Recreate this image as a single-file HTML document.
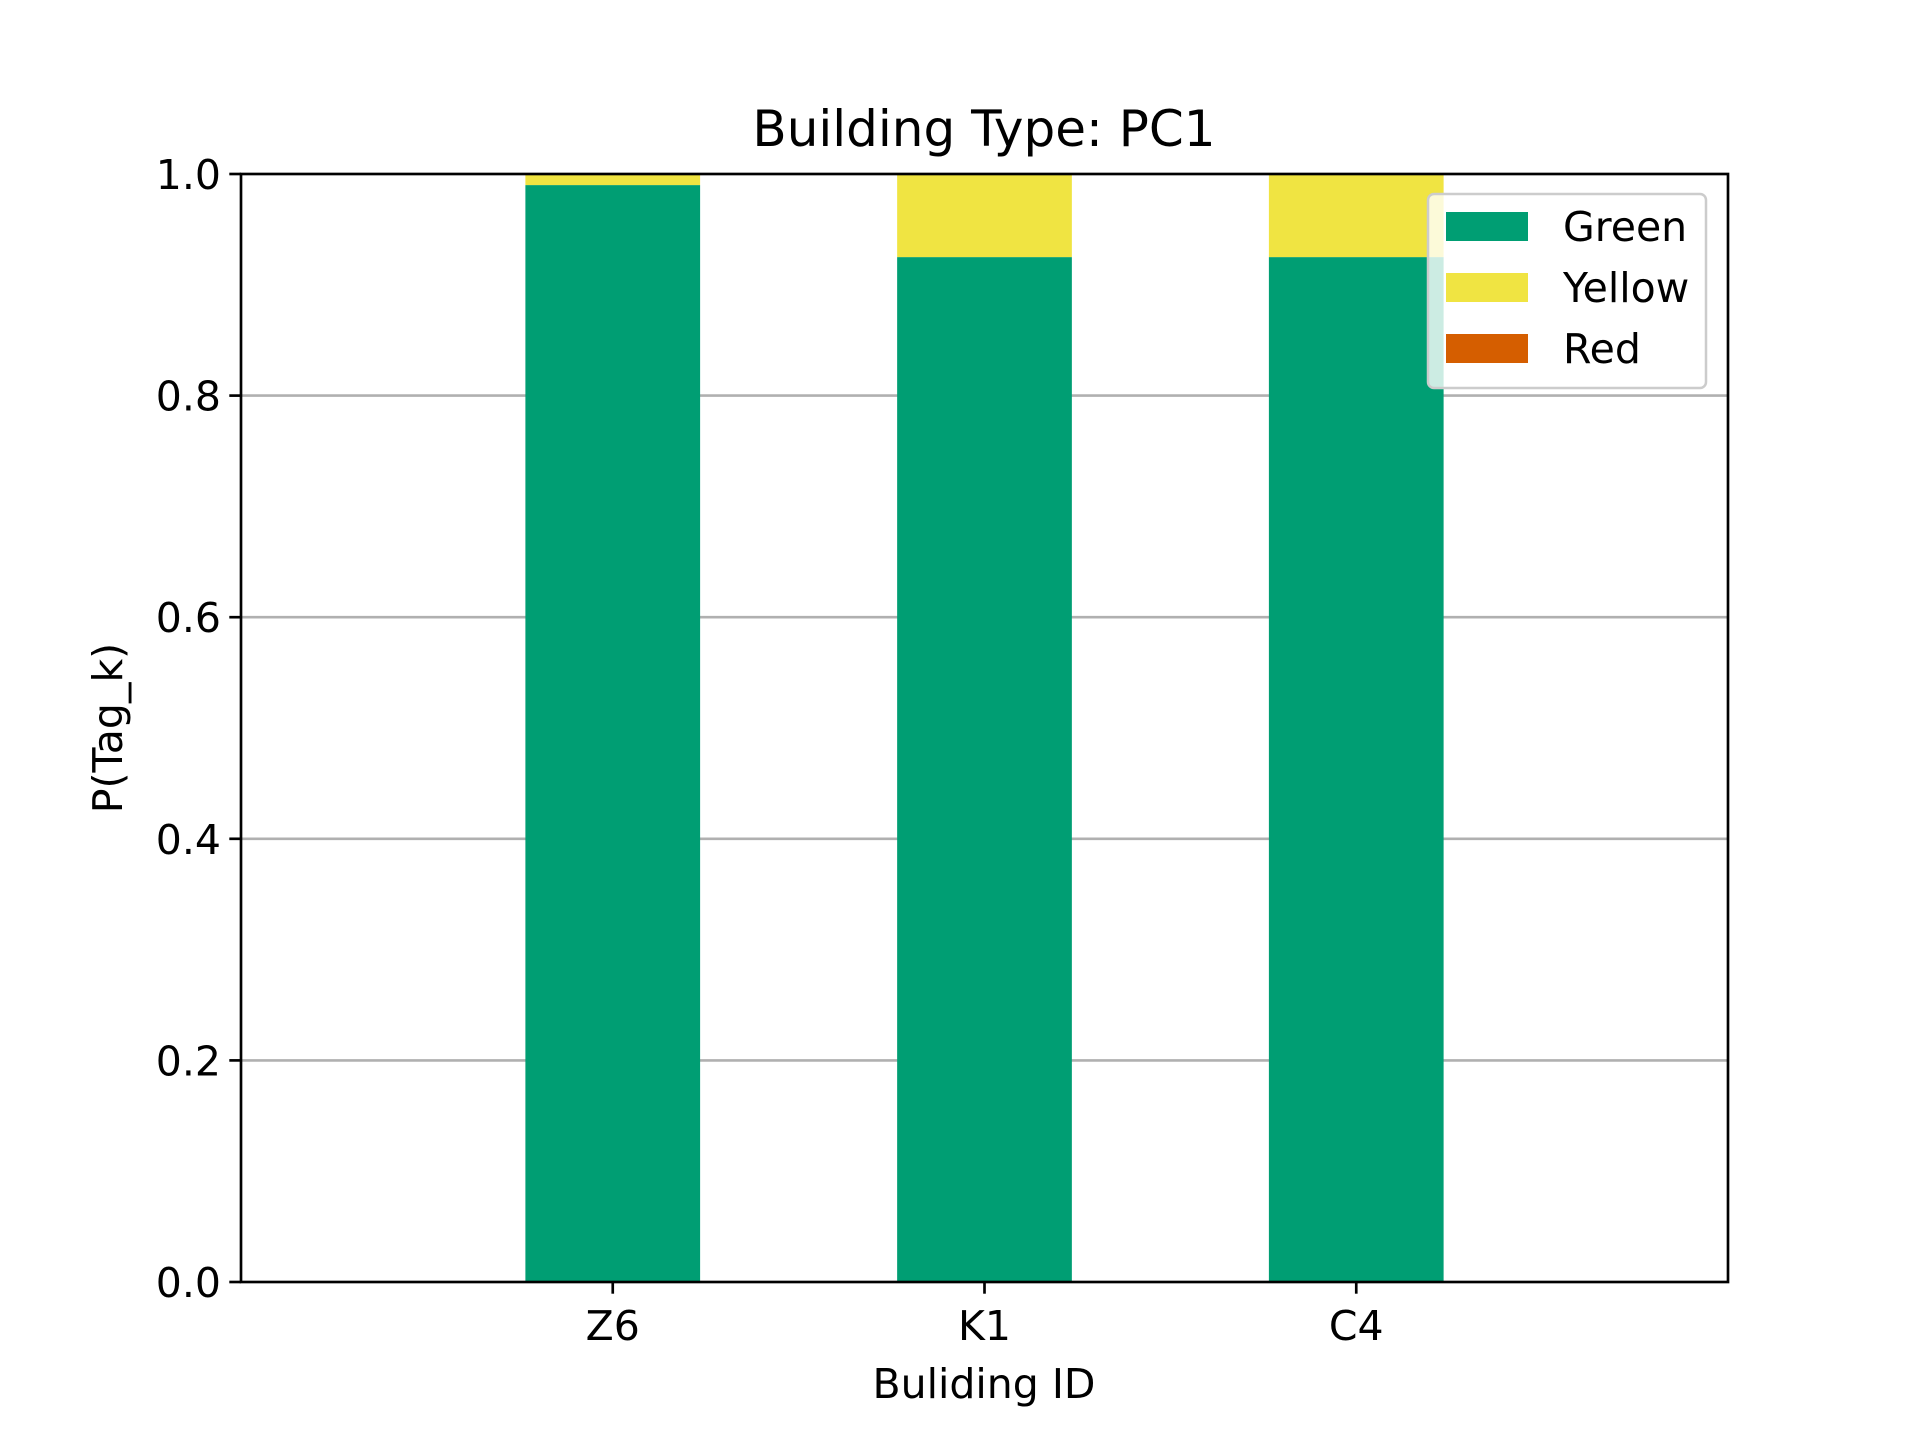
<!DOCTYPE html>
<html><head><meta charset="utf-8"><style>
html,body{margin:0;padding:0;background:#fff;}
svg{display:block;font-family:"DejaVu Sans","Liberation Sans",sans-serif;}
</style></head><body>
<svg id="chart" width="1920" height="1440" viewBox="0 0 1920 1440">
<rect width="1920" height="1440" fill="#fff"/>
<g id="grid"></g>
<g id="bars"></g>
<g id="axes"></g>
<text x="984" y="146" font-size="50" text-anchor="middle">Building Type: PC1</text>
<text x="984" y="1398" font-size="41" text-anchor="middle">Buliding ID</text>
<text transform="translate(122,728) rotate(-90)" font-size="41" text-anchor="middle">P(Tag_k)</text>
<g>
<rect x="1428" y="194" width="278" height="194" rx="6" fill="#fff" fill-opacity="0.8" stroke="#ccc" stroke-width="2.5"/>
<g><rect x="1446" y="212" width="82" height="29" fill="#009e73"/><text x="1563" y="241" font-size="41">Green</text></g>
<g><rect x="1446" y="273" width="82" height="29" fill="#f0e442"/><text x="1563" y="302" font-size="41">Yellow</text></g>
<g><rect x="1446" y="334" width="82" height="29" fill="#d55e00"/><text x="1563" y="363" font-size="41">Red</text></g>
</g>
</svg>
<script>
const categories = ["Z6","K1","C4"];
const greenValues = [0.99, 0.925, 0.925];
const yellowValues = [0.01, 0.075, 0.075];
const redValues = [0, 0, 0];
const yTicks = [0, 0.2, 0.4, 0.6, 0.8, 1.0];
const yTickLabels = ["0.0","0.2","0.4","0.6","0.8","1.0"];

const L=241,R=1728,T=174,B=1282;
const xs = i => L + (i - (-1)) / 4 * (R - L);
const ys = v => B - v * (B - T);
const barW = 0.47 / 4 * (R - L);
const NS="http://www.w3.org/2000/svg";
function mk(tag, attrs, parent){const e=document.createElementNS(NS,tag);for(const k in attrs)e.setAttribute(k,attrs[k]);parent.appendChild(e);return e;}
const grid=document.getElementById('grid'), bars=document.getElementById('bars'), axes=document.getElementById('axes');
yTicks.forEach((v,i)=>{
  if(v>0 && v<1){const g=mk('line',{x1:L,x2:R,y1:ys(v),y2:ys(v),stroke:'#b0b0b0','stroke-width':2.67},grid);
  
  }
  const t=mk('line',{x1:L-11.7,x2:L,y1:ys(v),y2:ys(v),stroke:'#000','stroke-width':2.67},axes);
  
  
  const lb=mk('text',{x:L-20,y:ys(v)+15,'font-size':41,'text-anchor':'end'},axes);
  lb.textContent=yTickLabels[i];
  
  
});
const series=[[greenValues,'#009e73','green'],[yellowValues,'#f0e442','yellow'],[redValues,'#d55e00','red']];
categories.forEach((c,i)=>{
  let base=0;
  series.forEach(([vals,col,nm])=>{
    const v=vals[i];
    if(v>0){const r=mk('rect',{x:xs(i)-barW/2,y:ys(base+v),width:barW,height:ys(base)-ys(base+v),fill:col},bars);
    
    }
    base+=v;
  });
  const t=mk('line',{x1:xs(i),x2:xs(i),y1:B,y2:B+11.7,stroke:'#000','stroke-width':2.67},axes);
  
  
  const lb=mk('text',{x:xs(i),y:B+58,'font-size':41,'text-anchor':'middle'},axes);
  lb.textContent=c;
  
  
});
const f=mk('rect',{x:L,y:T,width:R-L,height:B-T,fill:'none',stroke:'#000','stroke-width':2.67},axes);


</script>
</body></html>
